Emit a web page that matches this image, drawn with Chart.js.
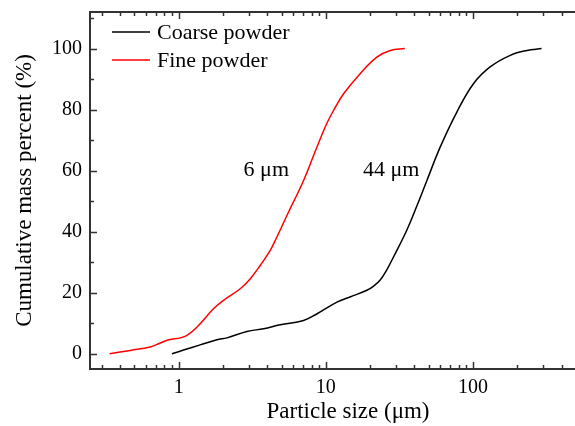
<!DOCTYPE html>
<html><head><meta charset="utf-8">
<script src="https://cdn.jsdelivr.net/npm/chart.js@4.4.0/dist/chart.umd.min.js"></script>
<style>html,body{margin:0;padding:0;overflow:hidden;background:#fff}#wrap{width:610px;height:426px;position:relative}</style>
</head><body><div id="wrap"><canvas id="c"></canvas></div>
<script>
const seriesNames = ['Coarse powder', 'Fine powder'];
const coarseSize = [0.90,1.08,1.40,1.82,2.13,2.91,3.78,4.90,7.06,8.72,11.9,14.6,19.0,21.0,23.4,26.0,28.8,35.4,41.5,48.6,59.8,77.6,100.6,130.6,178.9,232,292];
const coarseCum  = [0,1.2,2.9,4.6,5.2,7.3,8.2,9.5,10.9,13.1,16.9,18.6,20.8,22.1,24.2,27.6,31.7,40.4,48.4,56.8,67.7,79.2,88.5,94.0,97.8,99.4,100];
const fineSize = [0.34,0.47,0.64,0.75,0.86,1.03,1.14,1.33,1.73,2.02,2.62,3.07,3.59,4.19,4.53,5.5,7.06,8.5,10,11.3,13.2,17.1,22.2,27.4,34.4];
const fineCum  = [0,1.1,2.2,3.5,4.6,5.2,6.0,8.7,14.8,17.5,21.3,24.6,29,33.9,37.1,45.8,56.8,66.5,74.8,79.8,85.2,91.8,97.2,99.4,100];
const xMajorTicks = [1, 10, 100];
const xMinorTicks = [0.3,0.4,0.5,0.6,0.7,0.8,0.9,2,3,4,5,6,7,8,9,20,30,40,50,60,70,80,90,200,300,400,500,600,700];
const yMajorTicks = [0, 20, 40, 60, 80, 100];
const yMinorTicks = [10, 30, 50, 70, 90, 110];
const annotations = [{text: '6 μm', x: 3.94, y: 60}, {text: '44 μm', x: 27.8, y: 60}];

const FONT = '"Liberation Serif", "Times New Roman", serif';

const framePlugin = {
  id: 'frame',
  afterDraw(chart) {
    const ctx = chart.ctx, a = chart.chartArea;
    const xs = chart.scales.x, ys = chart.scales.y;
    ctx.save();
    ctx.strokeStyle = '#333';
    ctx.lineWidth = 2;
    ctx.strokeRect(a.left, a.top, a.right - a.left, a.bottom - a.top);
    ctx.lineWidth = 1.5;
    ctx.beginPath();
    const xt = (vals, len) => vals.forEach(v => {
      const p = Math.round(xs.getPixelForValue(v)) + 0.5;
      ctx.moveTo(p, a.bottom); ctx.lineTo(p, a.bottom - len);
      ctx.moveTo(p, a.top); ctx.lineTo(p, a.top + len);
    });
    const yt = (vals, len) => vals.forEach(v => {
      const p = Math.round(ys.getPixelForValue(v)) + 0.5;
      ctx.moveTo(a.left, p); ctx.lineTo(a.left + len, p);
      ctx.moveTo(a.right, p); ctx.lineTo(a.right - len, p);
    });
    xt(xMajorTicks, 7); xt(xMinorTicks, 4);
    yt(yMajorTicks, 7); yt(yMinorTicks, 4);
    ctx.stroke();
    // legend
    ctx.font = '22px ' + FONT;
    ctx.textBaseline = 'middle';
    ctx.textAlign = 'left';
    chart.data.datasets.forEach((ds, i) => {
      const y = 32 + i * 28;
      ctx.strokeStyle = ds.borderColor;
      ctx.lineWidth = 1.5;
      ctx.beginPath(); ctx.moveTo(112, y); ctx.lineTo(150, y); ctx.stroke();
      ctx.fillStyle = '#000';
      ctx.fillText(ds.label, 157, y + 1);
    });
    // annotations
    ctx.textAlign = 'center';
    annotations.forEach(t => {
      ctx.fillText(t.text, xs.getPixelForValue(t.x), ys.getPixelForValue(t.y));
    });
    ctx.restore();
  }
};

new Chart(document.getElementById('c'), {
  type: 'line',
  data: {
    datasets: [
      {label: seriesNames[0], data: coarseSize.map((x, i) => ({x, y: coarseCum[i]})), borderColor: '#000000'},
      {label: seriesNames[1], data: fineSize.map((x, i) => ({x, y: fineCum[i]})), borderColor: '#ff0000'}
    ]
  },
  options: {
    responsive: true, maintainAspectRatio: false, animation: false, devicePixelRatio: 1,
    layout: {padding: {top: 12, right: 4, left: 0, bottom: 0}},
    elements: {
      point: {radius: 0},
      line: {borderWidth: 1.5, tension: 0.4, fill: false}
    },
    plugins: {legend: {display: false}, tooltip: {enabled: false}},
    scales: {
      x: {
        type: 'logarithmic', min: 0.25, max: 800,
        afterFit(s) { s.height = 57; s.paddingLeft = 0; s.paddingRight = 0; },
        afterBuildTicks(s) { s.ticks = xMajorTicks.map(v => ({value: v})); },
        grid: {display: false, drawTicks: false},
        border: {display: false},
        ticks: {autoSkip: false, maxRotation: 0, padding: 7, color: '#000', font: {family: FONT, size: 20},
          callback: v => String(v)},
        title: {display: true, text: 'Particle size (μm)', color: '#000', font: {family: FONT, size: 23}, padding: {top: 0, bottom: 0}}
      },
      y: {
        type: 'linear', min: -5, max: 112,
        afterFit(s) { s.width = 90; s.paddingTop = 0; s.paddingBottom = 0; },
        afterBuildTicks(s) { s.ticks = yMajorTicks.map(v => ({value: v})); },
        grid: {display: false, drawTicks: false},
        border: {display: false},
        ticks: {autoSkip: false, padding: 8, color: '#000', font: {family: FONT, size: 20}},
        title: {display: true, text: 'Cumulative mass percent (%)', color: '#000', font: {family: FONT, size: 23}, padding: {top: 11, bottom: 0}}
      }
    }
  },
  plugins: [framePlugin]
});
</script>
</body></html>
